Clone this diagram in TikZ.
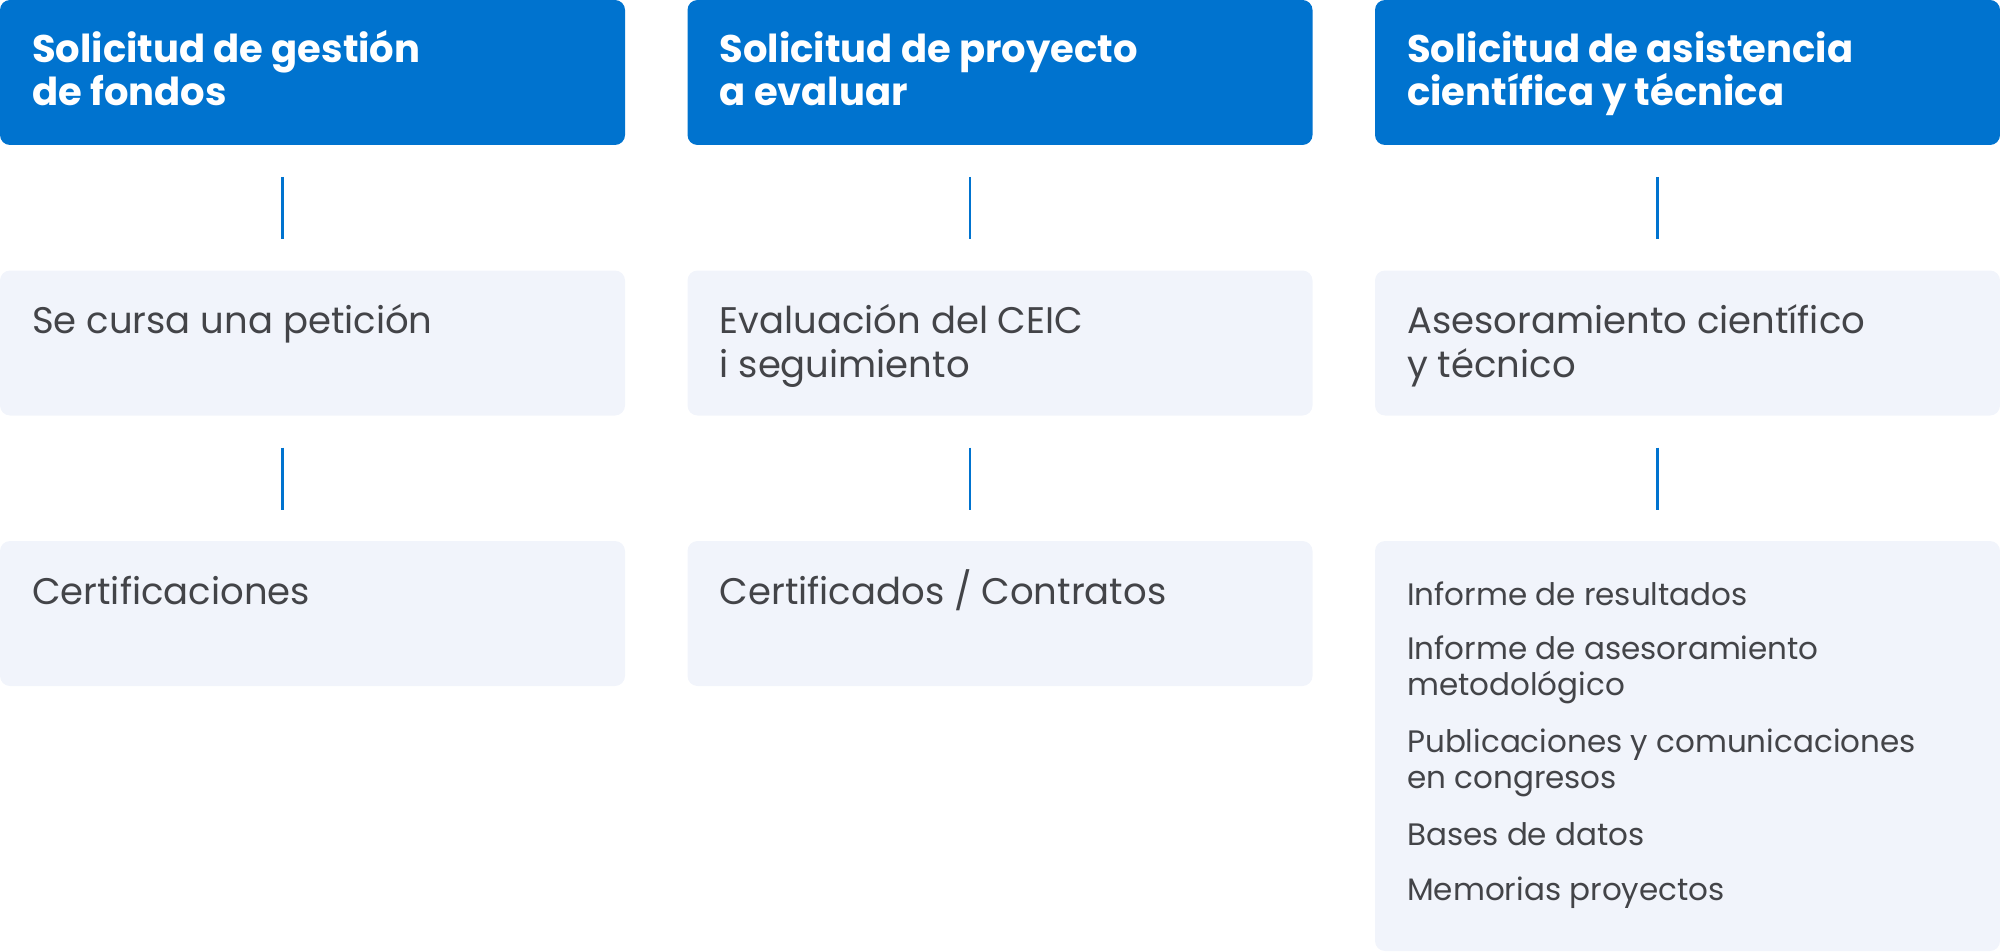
\documentclass[tikz,border=0pt]{standalone}
\usepackage{fontspec}
\setmainfont{Poppins}
\usetikzlibrary{positioning}
\definecolor{hdblue}{HTML}{0073CF}
\definecolor{boxfill}{HTML}{F1F4FB}
\definecolor{txtgray}{HTML}{434448}
\newcommand{\colw}{625pt}
\newcommand{\rowh}{145pt}
\newcommand{\colgap}{62.5pt}
\newcommand{\rowgap}{125.5pt}
\newcommand{\txtin}{32pt}
\newcommand{\txtdown}{-63pt}
\newcommand{\txtdowntwo}{-107pt}
\tikzset{
  hdbox/.style={rectangle, rounded corners=10pt, fill=hdblue,
    minimum width=\colw, minimum height=\rowh, inner sep=0pt, outer sep=0pt},
  stbox/.style={hdbox, fill=boxfill},
  hdtext/.style={anchor=base west, text=white, align=left, inner sep=0pt,
    font=\bfseries\fontsize{38.5}{43}\selectfont},
  sttext/.style={anchor=base west, text=txtgray, align=left, inner sep=0pt,
    font=\fontsize{37}{44}\selectfont},
  lsttext/.style={sttext, font=\fontsize{31}{36}\selectfont},
  link/.style={draw=hdblue, line width=2.5pt, shorten <=32pt, shorten >=31pt}
}
\begin{document}
\begin{tikzpicture}[x=1pt, y=1pt]
    \useasboundingbox (0,0) rectangle (2000,-952);
    % header row
    \node[hdbox, anchor=north west] (hd1) at (0,0) {};
    \node[hdbox, right=\colgap of hd1] (hd2) {};
    \node[hdbox, right=\colgap of hd2] (hd3) {};
    % middle row
    \node[stbox, below=\rowgap of hd1] (md1) {};
    \node[stbox, below=\rowgap of hd2] (md2) {};
    \node[stbox, below=\rowgap of hd3] (md3) {};
    % bottom row
    \node[stbox, below=\rowgap of md1] (bt1) {};
    \node[stbox, below=\rowgap of md2] (bt2) {};
    \node[stbox, below=\rowgap of md3, anchor=north,
      minimum height=410pt] (bt3) {};

    % texts (base = last line)
    \node[hdtext] (hd1t) at ([shift={(\txtin,-106pt)}]hd1.north west)
      {Solicitud de gestión\\de fondos};
    \node[hdtext] (hd2t) at ([shift={(\txtin,-106pt)}]hd2.north west)
      {Solicitud de proyecto\\a evaluar};
    \node[hdtext] (hd3t) at ([shift={(\txtin,-106pt)}]hd3.north west)
      {Solicitud de asistencia\\científica y técnica};
    \node[sttext] (md1t) at ([shift={(\txtin,\txtdown)}]md1.north west)
      {Se cursa una petición};
    \node[sttext] (md2t) at ([shift={(\txtin,\txtdowntwo)}]md2.north west)
      {Evaluación del CEIC\\i seguimiento};
    \node[sttext] (md3t) at ([shift={(\txtin,\txtdowntwo)}]md3.north west)
      {Asesoramiento científico\\y técnico};
    \node[sttext] (bt1t) at ([shift={(\txtin,\txtdown)}]bt1.north west)
      {Certificaciones};
    \node[sttext] (bt2t) at ([shift={(\txtin,\txtdown)}]bt2.north west)
      {Certificados / Contratos};
    \node[lsttext] (bt3t) at ([shift={(\txtin,-359pt)}]bt3.north west)
      {Informe de resultados\\[18pt]
       Informe de asesoramiento\\metodológico\\[21pt]
       Publicaciones y comunicaciones\\en congresos\\[21pt]
       Bases de datos\\[19pt]
       Memorias proyectos};

    % connectors
    \foreach \c in {1,2,3} {
      \draw[link] ([xshift=-30pt]hd\c.south) -- ([xshift=-30pt]md\c.north);
      \draw[link] ([xshift=-30pt]md\c.south) -- ([xshift=-30pt]bt\c.north);
    }
  \end{tikzpicture}
\end{document}
